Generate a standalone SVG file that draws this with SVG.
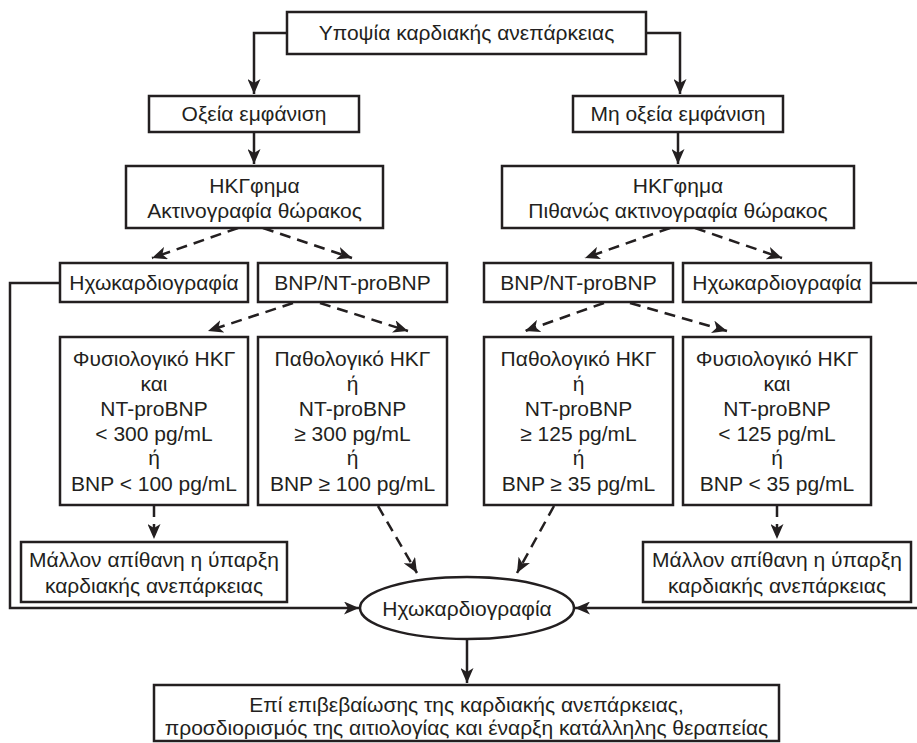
<svg xmlns="http://www.w3.org/2000/svg" width="917" height="743" viewBox="0 0 917 743">
<defs>
<marker id="ah" viewBox="0 0 15 13" refX="15" refY="6.5" markerWidth="15" markerHeight="13" markerUnits="userSpaceOnUse" orient="auto">
<path d="M0,0 L15,6.5 L0,13 L4,6.5 z" fill="#231f20"/>
</marker>
<style>
.box{fill:#fff;stroke:#231f20;stroke-width:2.5}
.t{font-family:"Liberation Sans",Arial,sans-serif;font-size:21px;fill:#231f20;text-anchor:middle}
.c{fill:none;stroke:#231f20;stroke-width:2.5}
.d{fill:none;stroke:#231f20;stroke-width:2.5;stroke-dasharray:11 7}
</style>
</defs>
<rect width="917" height="743" fill="#fff"/>
<g id="connectors">
<path class="c" d="M287,33 H254 V94" marker-end="url(#ah)"/>
<path class="c" d="M646,33 H680 V94" marker-end="url(#ah)"/>
<path class="c" d="M254,132 V164" marker-end="url(#ah)"/>
<path class="c" d="M678,132 V164" marker-end="url(#ah)"/>
<path class="d" d="M238,228 L152,258" marker-end="url(#ah)"/>
<path class="d" d="M263,228 L352,258" marker-end="url(#ah)"/>
<path class="d" d="M670,228 L585,258" marker-end="url(#ah)"/>
<path class="d" d="M695,228 L782,258" marker-end="url(#ah)"/>
<path class="d" d="M293,303 L208,331" marker-end="url(#ah)"/>
<path class="d" d="M320,303 L408,331" marker-end="url(#ah)"/>
<path class="d" d="M604,303 L525,331" marker-end="url(#ah)"/>
<path class="d" d="M630,303 L727,331" marker-end="url(#ah)"/>
<path class="d" d="M154,506 V539" marker-end="url(#ah)"/>
<path class="d" d="M777,506 V539" marker-end="url(#ah)"/>
<path class="d" d="M378,506 L417,573" marker-end="url(#ah)"/>
<path class="d" d="M554,506 L517,573" marker-end="url(#ah)"/>
<path class="c" d="M60,283 H10 V608 H359" marker-end="url(#ah)"/>
<path class="c" d="M871,283 H920"/>
<path class="c" d="M920,608 H575" marker-end="url(#ah)"/>
<path class="c" d="M467,638 V683" marker-end="url(#ah)"/>
</g>
<g id="n-suspect">
<rect class="box" x="287" y="12" width="359" height="42"/>
<text class="t" x="466.5" y="40">Υποψία καρδιακής ανεπάρκειας</text>
</g>
<g id="n-acute">
<rect class="box" x="149" y="96" width="210" height="36"/>
<text class="t" x="254" y="121">Οξεία εμφάνιση</text>
</g>
<g id="n-nonacute">
<rect class="box" x="573" y="96" width="210" height="36"/>
<text class="t" x="678" y="121">Μη οξεία εμφάνιση</text>
</g>
<g id="n-ecg-left">
<rect class="box" x="126" y="166" width="257" height="62"/>
<text class="t" x="254.5" y="193">ΗΚΓφημα</text>
<text class="t" x="254.5" y="218">Ακτινογραφία θώρακος</text>
</g>
<g id="n-ecg-right">
<rect class="box" x="502" y="166" width="352" height="62"/>
<text class="t" x="678" y="193">ΗΚΓφημα</text>
<text class="t" x="678" y="218">Πιθανώς ακτινογραφία θώρακος</text>
</g>
<g id="n-echo-left">
<rect class="box" x="60" y="263" width="188" height="39"/>
<text class="t" x="154" y="290">Ηχωκαρδιογραφία</text>
</g>
<g id="n-bnp-left">
<rect class="box" x="258" y="263" width="189" height="39"/>
<text class="t" x="352.5" y="290">BNP/NT-proBNP</text>
</g>
<g id="n-bnp-right">
<rect class="box" x="484" y="263" width="189" height="39"/>
<text class="t" x="578.5" y="290">BNP/NT-proBNP</text>
</g>
<g id="n-echo-right">
<rect class="box" x="683" y="263" width="188" height="39"/>
<text class="t" x="777" y="290">Ηχωκαρδιογραφία</text>
</g>
<g id="n-normal-left">
<rect class="box" x="60" y="337" width="188" height="168"/>
<text class="t" x="154" y="366">Φυσιολογικό ΗΚΓ</text>
<text class="t" x="154" y="391">και</text>
<text class="t" x="154" y="416">NT-proBNP</text>
<text class="t" x="154" y="441">&lt; 300 pg/mL</text>
<text class="t" x="154" y="465">ή</text>
<text class="t" x="154" y="491">BNP &lt; 100 pg/mL</text>
</g>
<g id="n-abn-left">
<rect class="box" x="258" y="337" width="189" height="168"/>
<text class="t" x="352.5" y="366">Παθολογικό ΗΚΓ</text>
<text class="t" x="352.5" y="391">ή</text>
<text class="t" x="352.5" y="416">NT-proBNP</text>
<text class="t" x="352.5" y="441">≥ 300 pg/mL</text>
<text class="t" x="352.5" y="465">ή</text>
<text class="t" x="352.5" y="491">BNP ≥ 100 pg/mL</text>
</g>
<g id="n-abn-right">
<rect class="box" x="484" y="337" width="189" height="168"/>
<text class="t" x="578.5" y="366">Παθολογικό ΗΚΓ</text>
<text class="t" x="578.5" y="391">ή</text>
<text class="t" x="578.5" y="416">NT-proBNP</text>
<text class="t" x="578.5" y="441">≥ 125 pg/mL</text>
<text class="t" x="578.5" y="465">ή</text>
<text class="t" x="578.5" y="491">BNP ≥ 35 pg/mL</text>
</g>
<g id="n-normal-right">
<rect class="box" x="683" y="337" width="188" height="168"/>
<text class="t" x="777" y="366">Φυσιολογικό ΗΚΓ</text>
<text class="t" x="777" y="391">και</text>
<text class="t" x="777" y="416">NT-proBNP</text>
<text class="t" x="777" y="441">&lt; 125 pg/mL</text>
<text class="t" x="777" y="465">ή</text>
<text class="t" x="777" y="491">BNP &lt; 35 pg/mL</text>
</g>
<g id="n-unlikely-left">
<rect class="box" x="21" y="542" width="266" height="60"/>
<text class="t" x="154" y="567">Μάλλον απίθανη η ύπαρξη</text>
<text class="t" x="154" y="593">καρδιακής ανεπάρκειας</text>
</g>
<g id="n-unlikely-right">
<rect class="box" x="643" y="542" width="268" height="60"/>
<text class="t" x="777" y="567">Μάλλον απίθανη η ύπαρξη</text>
<text class="t" x="777" y="593">καρδιακής ανεπάρκειας</text>
</g>
<g id="n-echo-main">
<ellipse class="box" cx="467" cy="608" rx="107" ry="31"/>
<text class="t" x="467" y="616">Ηχωκαρδιογραφία</text>
</g>
<g id="n-final">
<rect class="box" x="154" y="685" width="625" height="56"/>
<text class="t" x="466.5" y="712">Επί επιβεβαίωσης της καρδιακής ανεπάρκειας,</text>
<text class="t" x="466.5" y="735">προσδιορισμός της αιτιολογίας και έναρξη κατάλληλης θεραπείας</text>
</g>
</svg>
